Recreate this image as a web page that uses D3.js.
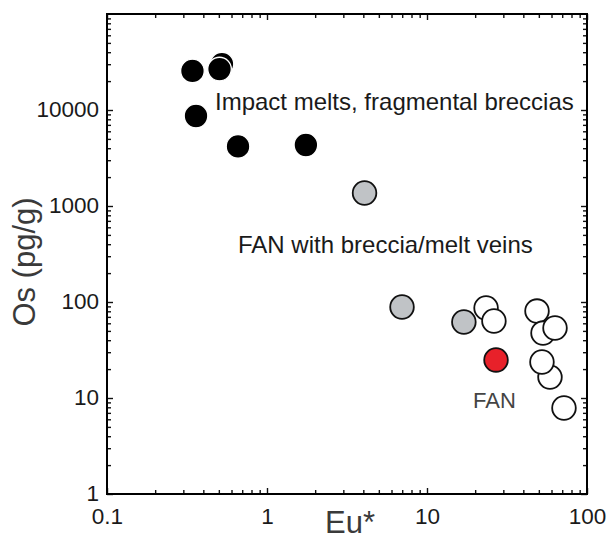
<!DOCTYPE html>
<head>
<meta charset="utf-8">
<title>Os vs Eu*</title>
<script src="https://cdnjs.cloudflare.com/ajax/libs/d3/7.8.5/d3.min.js"></script>
<style>
body { margin: 0; background: #fff; }
text { font-family: "Liberation Sans", Arial, sans-serif; }
</style>
</head>
<body>
<script>
// Eu* / Os (pg/g)
var meltEu = [0.523, 0.342, 0.505, 0.360, 0.659, 1.75];
var meltOs = [30100, 25500, 26700, 8660, 4170, 4320];

var veinEu = [4.07, 6.98, 17.0];
var veinOs = [1366, 88.7, 61.9];

var fanEu = [23.4, 26.2, 48.7, 53.1, 63.1, 58.7, 52.3, 71.8];
var fanOs = [86.6, 63.4, 80.5, 47.5, 53.6, 16.5, 23.7, 7.87];

var redEu = [27.0];
var redOs = [24.9];

var xTicks = [0.1, 1, 10, 100];
var xTickLabels = ["0.1", "1", "10", "100"];
var yTicks = [1, 10, 100, 1000, 10000];
var yTickLabels = ["1", "10", "100", "1000", "10000"];

var width = 613, height = 539;
var pLeft = 107, pRight = 587, pTop = 14, pBottom = 494;

var svg = d3.select("body").append("svg")
    .attr("width", width)
    .attr("height", height);

var x = d3.scaleLog().domain([0.1, 100]).range([pLeft, pRight]);
var y = d3.scaleLog().domain([1, 100000]).range([pBottom, pTop]);

function minors(lo, hi) {
  var out = [];
  for (var d = lo; d < hi; d *= 10)
    for (var k = 2; k <= 9; k++) out.push(d * k);
  return out;
}
var xMinor = minors(0.1, 100);
var yMinor = minors(1, 100000);

// tick marks, pointing inward on all four sides
svg.append("g").attr("transform", "translate(0," + pBottom + ")")
  .call(d3.axisBottom(x).tickValues(xMinor).tickSize(-4).tickFormat(""));
svg.append("g").attr("transform", "translate(0," + pTop + ")")
  .call(d3.axisTop(x).tickValues(xMinor).tickSize(-4).tickFormat(""));
svg.append("g").attr("transform", "translate(0," + pTop + ")")
  .call(d3.axisTop(x).tickValues(xTicks).tickSize(-6).tickFormat(""));
svg.append("g").attr("transform", "translate(" + pLeft + ",0)")
  .call(d3.axisLeft(y).tickValues(yMinor).tickSize(-4).tickFormat(""));
svg.append("g").attr("transform", "translate(" + pRight + ",0)")
  .call(d3.axisRight(y).tickValues(yMinor).tickSize(-4).tickFormat(""));
svg.append("g").attr("transform", "translate(" + pRight + ",0)")
  .call(d3.axisRight(y).tickValues(yTicks).tickSize(-6).tickFormat(""));

var xAxis = svg.append("g").attr("class", "lab").attr("transform", "translate(0," + pBottom + ")")
  .call(d3.axisBottom(x).tickValues(xTicks).tickSize(-6).tickPadding(14)
    .tickFormat(function(d, i){ return xTickLabels[i]; }));
var yAxis = svg.append("g").attr("class", "lab").attr("transform", "translate(" + pLeft + ",0)")
  .call(d3.axisLeft(y).tickValues(yTicks).tickSize(-6).tickPadding(8)
    .tickFormat(function(d, i){ return yTickLabels[i]; }));

svg.selectAll(".domain").remove();
svg.selectAll(".tick line").attr("stroke", "#111").attr("stroke-width", 1.4);
svg.selectAll(".lab text").attr("font-size", 22.5).attr("fill", "#1a1a1a")
   .style("font-family", "'Liberation Sans', Arial, sans-serif");
yAxis.selectAll("text").attr("dy", "0.3em");

svg.append("rect")
  .attr("x", pLeft).attr("y", pTop)
  .attr("width", pRight - pLeft).attr("height", pBottom - pTop)
  .attr("fill", "none").attr("stroke", "#000").attr("stroke-width", 2);

// axis titles
svg.append("text")
  .attr("x", 350).attr("y", 533)
  .attr("text-anchor", "middle").attr("font-size", 31).attr("fill", "#3a3a3a")
  .text("Eu*");
svg.append("text")
  .attr("transform", "translate(35,262) rotate(-90)")
  .attr("text-anchor", "middle").attr("font-size", 31).attr("fill", "#3a3a3a")
  .text("Os (pg/g)");

// group labels
svg.append("text").attr("x", 215).attr("y", 110)
  .attr("font-size", 24).attr("fill", "#1a1a1a")
  .text("Impact melts, fragmental breccias");
svg.append("text").attr("x", 238).attr("y", 253)
  .attr("font-size", 24).attr("fill", "#1a1a1a")
  .text("FAN with breccia/melt veins");
svg.append("text").attr("x", 473).attr("y", 408)
  .attr("font-size", 22).attr("fill", "#444")
  .text("FAN");

function dots(eu, os, fill, stroke, sw) {
  svg.append("g").selectAll("circle")
    .data(d3.range(eu.length))
    .enter().append("circle")
      .attr("cx", function(i){ return x(eu[i]); })
      .attr("cy", function(i){ return y(os[i]); })
      .attr("r", 11.8)
      .attr("fill", fill)
      .attr("stroke", stroke)
      .attr("stroke-width", sw);
}

dots(meltEu, meltOs, "#000", "#fff", 1.3);
dots(veinEu, veinOs, "#c0c3c6", "#111", 1.8);
dots(fanEu, fanOs, "#fff", "#111", 1.8);
dots(redEu, redOs, "#e8212a", "#111", 1.8);
</script>
</body>
